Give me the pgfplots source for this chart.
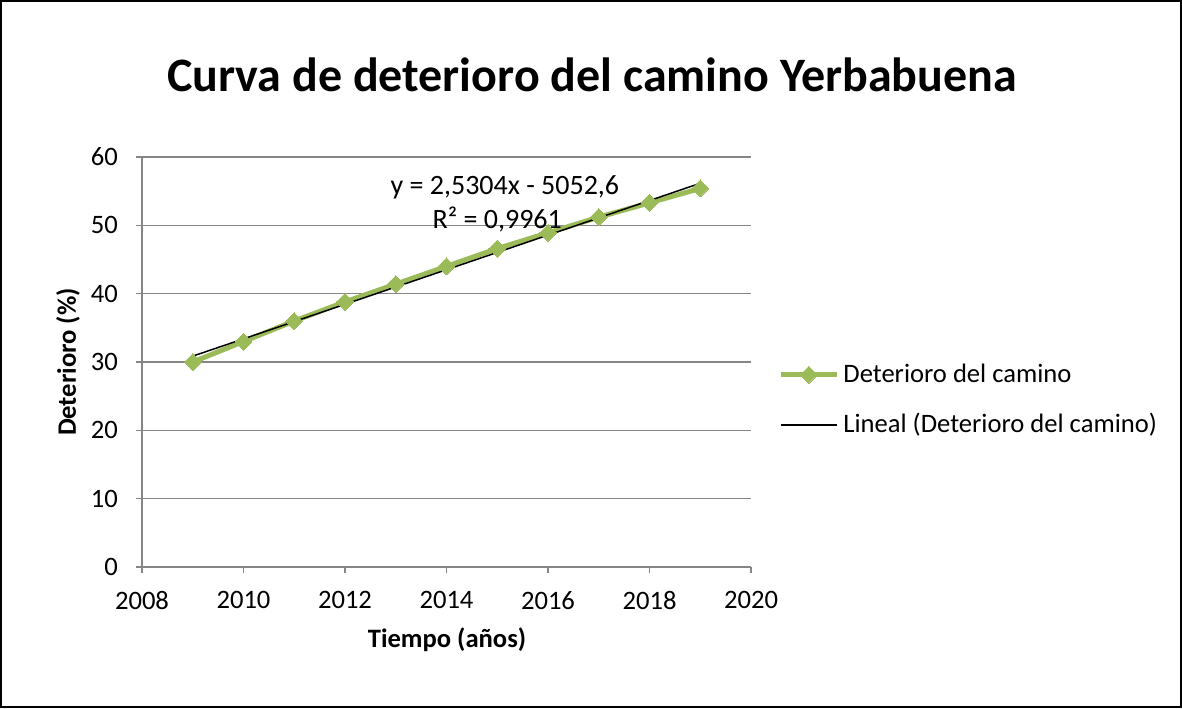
\documentclass[border=0pt]{standalone}
\usepackage{pgfplots}
\pgfplotsset{compat=1.18}
\usepackage{fontspec}
\setmainfont{Carlito}
\definecolor{exgreen}{HTML}{9BBB59}
\definecolor{exgrid}{HTML}{868686}
\begin{document}
\begin{tikzpicture}
\draw[black, line width=0.8pt] (0.4pt,-0.4pt) rectangle (590.6pt,-353.6pt);
\useasboundingbox (0,0) rectangle (591pt,-354pt);
\node[font=\fontsize{24}{28}\selectfont\bfseries] at (296pt,-37.5pt) {Curva de deterioro del camino Yerbabuena};
\node[font=\fontsize{13.3}{16}\selectfont\bfseries, rotate=90] at (34pt,-181pt) {Deterioro (\%)};
\node[font=\fontsize{13.3}{16}\selectfont\bfseries] at (223.5pt,-320pt) {Tiempo (años)};
\begin{axis}[
  at={(71pt,-283.5pt)}, anchor=south west,
  scale only axis, width=304.5pt, height=205pt,
  xmin=2008, xmax=2020, ymin=0, ymax=60,
  xtick={2008,2010,...,2020}, ytick={0,10,...,60},
  axis x line*=bottom, axis y line*=left,
  axis line style={exgrid, line width=0.75pt, -},
  ymajorgrids, grid style={exgrid, line width=0.75pt},
  tick style={exgrid, line width=0.75pt},
  tick align=outside, major tick length=3pt,
  tick label style={font=\fontsize{13.3}{16}\selectfont},
  /pgf/number format/assume math mode=true,
  /pgf/number format/1000 sep={},
  xticklabel style={yshift=-5.5pt},
  yticklabel style={xshift=-5.5pt},
  legend cell align=left,
  legend style={at={(1,0.5)}, anchor=west, xshift=10.5pt, yshift=-19pt, draw=none, fill=none,
    font=\fontsize{13.3}{16}\selectfont, row sep=10pt, cells={inner xsep=1pt}},
  legend image code/.code={\draw[mark repeat=2,mark phase=2,#1] plot coordinates {(0pt,0pt) (14pt,0pt) (28pt,0pt)};},
  clip=false,
]
\addplot[exgreen, line width=2.5pt, mark=square*, mark size=3pt, mark options={rotate=45, solid, fill=exgreen, draw=exgreen, line width=0pt}]
  coordinates {(2009,30) (2010,33) (2011,36) (2012,38.8) (2013,41.4) (2014,44) (2015,46.6) (2016,48.9) (2017,51.2) (2018,53.3) (2019,55.4)};
\addlegendentry{Deterioro del camino}
\addplot[black, line width=0.75pt] coordinates {(2009,30.86) (2019,56.16)};
\addlegendentry{Lineal (Deterioro del camino)}
\node[font=\fontsize{14}{16}\selectfont] at (axis cs:2015.15,55.6) {y = 2,5304x - 5052,6};
\node[font=\fontsize{14}{16}\selectfont] at (axis cs:2015.0,50.8) {R² = 0,9961};
\end{axis}
\end{tikzpicture}
\end{document}
